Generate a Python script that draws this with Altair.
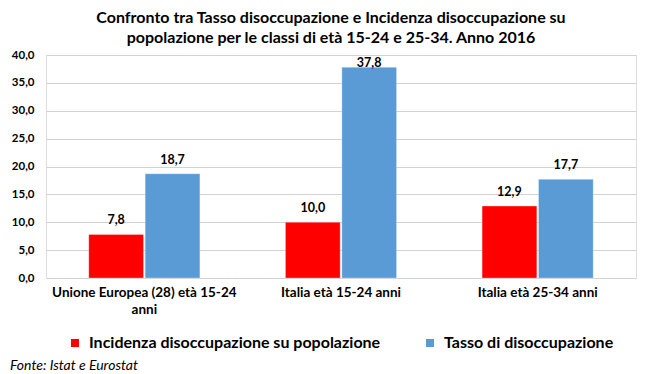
import altair as alt
import pandas as pd

categories = ["Unione Europea (28) età 15-24 anni", "Italia età 15-24 anni", "Italia età 25-34 anni"]
series = ["Incidenza disoccupazione su popolazione", "Tasso di disoccupazione"]
incidenza = [7.8, 10.0, 12.9]
tasso = [18.7, 37.8, 17.7]
colors = ["#FF0000", "#5B9BD5"]
y_ticks = [0, 5, 10, 15, 20, 25, 30, 35, 40]
title_lines = ["Confronto tra Tasso disoccupazione e Incidenza disoccupazione su",
               "popolazione per le classi di età 15-24 e 25-34.  Anno 2016"]
source_note = ["Fonte: Istat e Eurostat"]

rows = []
for c, a, b in zip(categories, incidenza, tasso):
    rows.append({"cat": c, "serie": series[0], "v": a})
    rows.append({"cat": c, "serie": series[1], "v": b})
df = pd.DataFrame(rows)

FONT = "Lato"

x_axis = alt.Axis(title=None, labelAngle=0, ticks=False, domain=False,
                  labelFont=FONT, labelFontWeight="bold", labelFontSize=13.5,
                  labelColor="black", labelPadding=7, labelLineHeight=17,
                  labelLimit=0,
                  labelExpr="datum.value == 'Unione Europea (28) età 15-24 anni' ? ['Unione Europea (28) età 15-24', 'anni'] : datum.value")
x_scale = alt.Scale(paddingInner=0.435, paddingOuter=0.2175)
y_scale = alt.Scale(domain=[0, 40], nice=False)
y_axis = alt.Axis(title=None, values=y_ticks, tickCount=20, ticks=False, domain=False,
                  labelOverlap=False,
                  grid=True, gridColor="#d2d2d2", gridWidth=1,
                  labelFont=FONT, labelFontWeight="bold", labelFontSize=11.5,
                  labelColor="black", labelPadding=12,
                  labelExpr="replace(format(datum.value, '.1f'), '.', ',')")
xo_enc = alt.XOffset("serie:N", sort=series, scale=alt.Scale(paddingInner=0.03))

base = alt.Chart(df)

bars = base.mark_bar(stroke="white", strokeWidth=0.3).encode(
    x=alt.X("cat:N", sort=categories, scale=x_scale, axis=x_axis),
    xOffset=xo_enc,
    y=alt.Y("v:Q", scale=y_scale, axis=y_axis),
    color=alt.Color("serie:N", sort=series,
                    scale=alt.Scale(domain=series, range=colors),
                    legend=alt.Legend(title=None, orient="none", direction="horizontal",
                                      legendX=21, legendY=280, symbolType="square",
                                      symbolSize=64, symbolStrokeWidth=0,
                                      labelFont=FONT, labelFontSize=16, labelFontWeight="bold",
                                      labelColor="black", labelOffset=6, columnPadding=41,
                                      labelLimit=0, padding=0)),
)

labels = base.transform_calculate(
    lab="replace(format(datum.v, '.1f'), '.', ',')",
    ly="min(datum.v + 1.8, 37.85)"
).mark_text(baseline="alphabetic", font=FONT, fontWeight="bold", fontSize=12.5,
            color="black").encode(
    x=alt.X("cat:N", sort=categories, scale=x_scale, axis=x_axis),
    xOffset=xo_enc,
    y=alt.Y("ly:Q", scale=y_scale, axis=y_axis),
    text="lab:N")

note = alt.Chart(pd.DataFrame({"t": source_note})).mark_text(
    align="left", baseline="alphabetic", font=FONT, fontStyle="italic", fontSize=14,
    color="black").encode(x=alt.value(-36), y=alt.value(315), text="t:N")

chart = alt.layer(bars, labels, note).properties(
    width=590, height=223,
    autosize=alt.AutoSizeParams(type="none"),
    padding={"left": 38, "top": 47, "right": 16, "bottom": 96},
    title=alt.TitleParams(text=title_lines, font=FONT, fontSize=16, fontWeight="bold",
                          color="black", anchor="middle", dx=-10, offset=3,
                          lineHeight=20),
).configure_view(fill="#E6E6E6", stroke="transparent").configure(background="white")

chart.save("out.html", embed_options={"renderer": "svg", "actions": False})
